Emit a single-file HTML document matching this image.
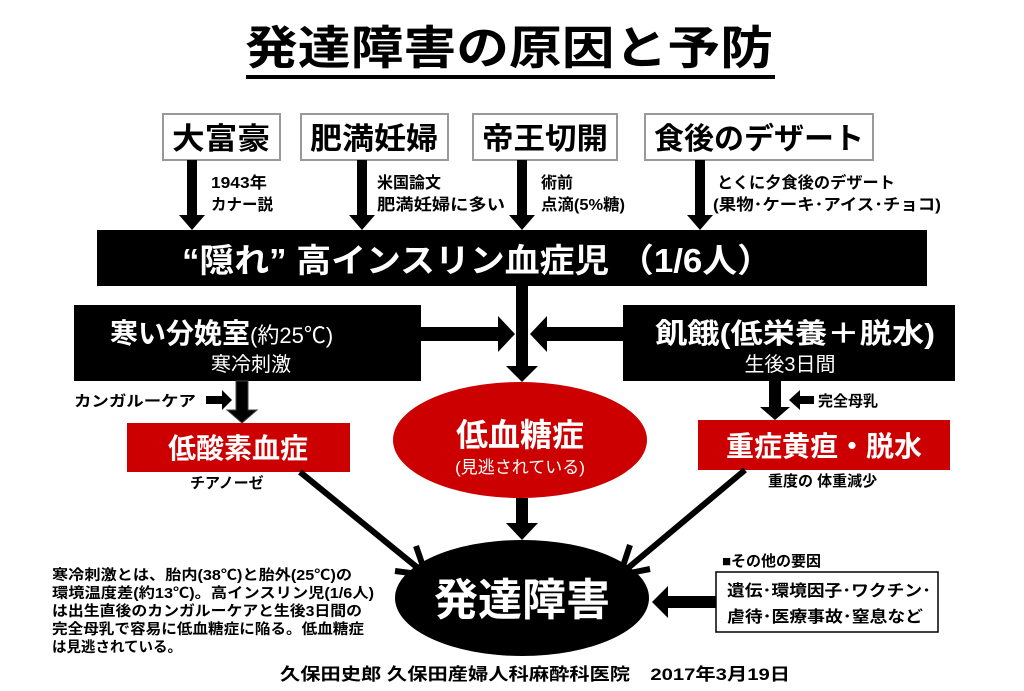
<!DOCTYPE html>
<html><head><meta charset="utf-8">
<style>
html,body{margin:0;padding:0;background:#fff;}
svg{display:block;}
text{font-family:"Liberation Sans","Noto Sans CJK JP",sans-serif;}
</style></head>
<body>
<svg width="1024" height="691" viewBox="0 0 1024 691" xmlns="http://www.w3.org/2000/svg">
<rect width="1024" height="691" fill="#fff"/>
<text x="509" y="64" font-size="46" font-weight="bold" text-anchor="middle" textLength="528" lengthAdjust="spacingAndGlyphs">発達障害の原因と予防</text>
<rect x="246" y="75" width="529" height="4" fill="#000"/>

<g fill="#fff" stroke="#999" stroke-width="2">
<rect x="163" y="114" width="117" height="46"/>
<rect x="301" y="114" width="147" height="46"/>
<rect x="473" y="114" width="144" height="46"/>
<rect x="645" y="114" width="228" height="46"/>
</g>
<g font-size="30" font-weight="bold" text-anchor="middle">
<text x="221" y="149" textLength="98" lengthAdjust="spacingAndGlyphs">大富豪</text>
<text x="374" y="149" textLength="128" lengthAdjust="spacingAndGlyphs">肥満妊婦</text>
<text x="545" y="149" textLength="126" lengthAdjust="spacingAndGlyphs">帝王切開</text>
<text x="759" y="149" textLength="210" lengthAdjust="spacingAndGlyphs">食後のデザート</text>
</g>
<g fill="#000">
<polygon points="187,160 197,160 197,215 205,215 192,230 179,215 187,215"/>
<polygon points="357,160 367,160 367,215 375,215 362,230 349,215 357,215"/>
<polygon points="517,160 527,160 527,215 535,215 522,230 509,215 517,215"/>
<polygon points="695,160 705,160 705,215 713,215 700,230 687,215 695,215"/>
</g>
<g font-size="16" font-weight="bold">
<text x="211" y="188" textLength="56" lengthAdjust="spacingAndGlyphs">1943年</text>
<text x="211" y="210" textLength="62" lengthAdjust="spacingAndGlyphs">カナー説</text>
<text x="377" y="188" textLength="64" lengthAdjust="spacingAndGlyphs">米国論文</text>
<text x="377" y="210" textLength="128" lengthAdjust="spacingAndGlyphs">肥満妊婦に多い</text>
<text x="541" y="188">術前</text>
<text x="541" y="210" textLength="84" lengthAdjust="spacingAndGlyphs">点滴(5%糖)</text>
<text x="717" y="188" textLength="178" lengthAdjust="spacingAndGlyphs">とくに夕食後のデザート</text>
<text x="713" y="210" textLength="228" lengthAdjust="spacingAndGlyphs">(果物･ケーキ･アイス･チョコ)</text>
</g>

<rect x="97" y="230" width="830" height="56" fill="#000"/>
<text x="182" y="272" font-size="33" fill="#fff" font-weight="bold" textLength="590" lengthAdjust="spacingAndGlyphs">“隠れ” 高インスリン血症児 （1/6人）</text>

<polygon points="516,286 528,286 528,366 538,366 522,382 506,366 516,366" fill="#000"/>

<rect x="74" y="305" width="347" height="76" fill="#000"/>
<text x="110" y="343" font-size="28" fill="#fff" font-weight="bold">寒い分娩室<tspan font-size="22" font-weight="normal">(約25℃)</tspan></text>
<text x="251" y="371" font-size="20" fill="#fff" text-anchor="middle">寒冷刺激</text>
<rect x="623" y="305" width="332" height="76" fill="#000"/>
<text x="655" y="343" font-size="28" fill="#fff" font-weight="bold" textLength="280" lengthAdjust="spacingAndGlyphs">飢餓(低栄養＋脱水)</text>
<text x="790" y="371" font-size="20" fill="#fff" text-anchor="middle">生後3日間</text>

<polygon points="421,327 498,327 498,316 515,334 498,352 498,341 421,341" fill="#000"/>
<polygon points="623,327 547,327 547,316 530,334 547,352 547,341 623,341" fill="#000"/>

<polygon points="236,381 248,381 248,410 257,410 242,423 227,410 236,410" fill="#000" stroke="#444" stroke-width="1"/>
<text x="74" y="406" font-size="15" font-weight="bold" textLength="122" lengthAdjust="spacingAndGlyphs">カンガルーケア</text>
<polygon points="206,396 222,396 222,390 232,400 222,410 222,404 206,404" fill="#000"/>
<polygon points="769,381 781,381 781,407 790,407 775,420 760,407 769,407" fill="#000"/>
<polygon points="814,396 800,396 800,390 789,400 800,410 800,404 814,404" fill="#000"/>
<text x="818" y="406" font-size="15" font-weight="bold">完全母乳</text>

<rect x="127" y="423" width="223" height="49" fill="#c00"/>
<text x="238" y="458" font-size="28" fill="#fff" font-weight="bold" text-anchor="middle">低酸素血症</text>
<rect x="698" y="420" width="252" height="50" fill="#c00"/>
<text x="824" y="456" font-size="28" fill="#fff" font-weight="bold" text-anchor="middle">重症黄疸・脱水</text>
<text x="190" y="488" font-size="15" font-weight="bold">チアノーゼ</text>
<text x="768" y="486" font-size="15" font-weight="bold">重度の 体重減少</text>

<ellipse cx="520" cy="440" rx="127" ry="58" fill="#c00"/>
<text x="520" y="446" font-size="32" fill="#fff" font-weight="bold" text-anchor="middle">低血糖症</text>
<text x="520" y="473" font-size="17" fill="#fff" text-anchor="middle">(見逃されている)</text>

<polygon points="516,498 528,498 528,523 538,523 522,540 506,523 516,523" fill="#000"/>

<g stroke="#000" stroke-width="6" fill="none" stroke-linecap="butt">
<line x1="300" y1="472" x2="424" y2="573"/>
<polyline points="395,571 426,575 416,546"/>
<line x1="745" y1="470" x2="622" y2="573"/>
<polyline points="630,545 620,575 650,569"/>
</g>

<ellipse cx="522" cy="598" rx="127" ry="58" fill="#000"/>
<text x="522" y="615" font-size="44" fill="#fff" font-weight="bold" text-anchor="middle">発達障害</text>

<text x="722" y="566" font-size="15" font-weight="bold">■その他の要因</text>
<rect x="716" y="572" width="222" height="60" fill="#fff" stroke="#000" stroke-width="1.5"/>
<text x="727" y="596" font-size="16" font-weight="bold" textLength="204" lengthAdjust="spacingAndGlyphs">遺伝･環境因子･ワクチン･</text>
<text x="727" y="622" font-size="16" font-weight="bold" textLength="196" lengthAdjust="spacingAndGlyphs">虐待･医療事故･窒息など</text>
<polygon points="716,596 668,596 668,586 652,602 668,618 668,608 716,608" fill="#000"/>

<g font-size="14.5" font-weight="bold">
<text x="52" y="580" textLength="300" lengthAdjust="spacingAndGlyphs">寒冷刺激とは、胎内(38℃)と胎外(25℃)の</text>
<text x="52" y="598" textLength="322" lengthAdjust="spacingAndGlyphs">環境温度差(約13℃)。高インスリン児(1/6人)</text>
<text x="52" y="616" textLength="310" lengthAdjust="spacingAndGlyphs">は出生直後のカンガルーケアと生後3日間の</text>
<text x="52" y="634" textLength="312" lengthAdjust="spacingAndGlyphs">完全母乳で容易に低血糖症に陥る。低血糖症</text>
<text x="52" y="652" textLength="130" lengthAdjust="spacingAndGlyphs">は見逃されている。</text>
</g>

<text x="280" y="680" font-size="17" font-weight="bold" textLength="510" lengthAdjust="spacingAndGlyphs">久保田史郎 久保田産婦人科麻酔科医院　2017年3月19日</text>
</svg>
</body></html>
